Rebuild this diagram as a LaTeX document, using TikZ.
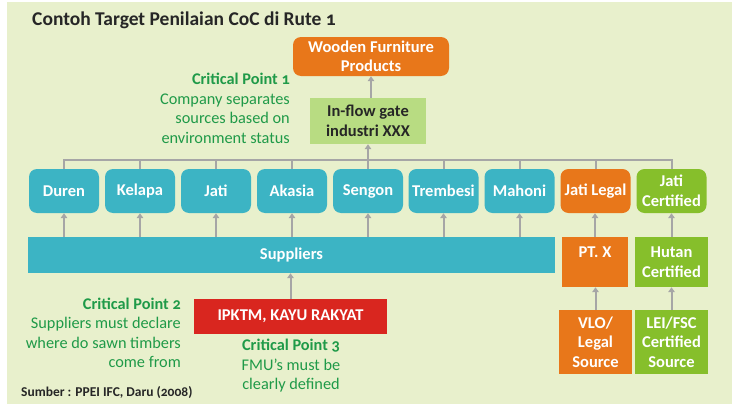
\documentclass[tikz,border=0pt]{standalone}
\usepackage{fontspec}
\setmainfont{Carlito}[Numbers=OldStyle]
\usetikzlibrary{arrows.meta}
\definecolor{bg}{HTML}{E8F0CC}
\definecolor{teal}{HTML}{3CB4C4}
\definecolor{orng}{HTML}{E8771A}
\definecolor{lgreen}{HTML}{B8DC82}
\definecolor{grn}{HTML}{86BF2B}
\definecolor{redbox}{HTML}{D9261F}
\definecolor{gtext}{HTML}{1F9A48}
\definecolor{darktext}{HTML}{262626}
\definecolor{arrgray}{HTML}{A6A6A6}
\begin{document}
\begin{tikzpicture}[x=1pt,y=-1pt,
  boxtext/.style={text=white, font=\bfseries\fontsize{16.5}{19.5}\selectfont, align=center, inner sep=0pt},
  treebox/.style={boxtext, rounded corners=8pt, fill=teal, minimum width=70pt, minimum height=44pt},
  sqbox/.style={boxtext, minimum width=73pt},
  crit/.style={text=gtext, font=\fontsize{16.3}{19.5}\selectfont, inner sep=0pt},
  arr/.style={draw=arrgray, line width=2pt, -{Triangle[width=6.5pt,length=5pt]}},
  ln/.style={draw=arrgray, line width=2pt}]
\useasboundingbox (0,0) rectangle (732,407);
\fill[white] (0,0) rectangle (732,407);
\fill[bg] (7,2) rectangle (732,404);

\node[anchor=west, text=darktext, font=\bfseries\fontsize{19.5}{23}\selectfont, inner sep=0pt] (title) at (32,20) {Contoh Target Penilaian CoC di Rute 1};

\node[boxtext, fill=orng, rounded corners=8pt, minimum width=156pt, minimum height=39pt] (wood) at (371,56.5) {Wooden Furniture\\Products};
\node[boxtext, text=darktext, fill=lgreen, minimum width=116pt, minimum height=46pt] (gate) at (368,121) {In-flow gate\\industri XXX};

\node[crit, anchor=east, align=right] (cp1) at (290,108.5) {\textbf{Critical Point 1}\\Company separates\\sources based on\\environment status};

\node[treebox] (duren) at (64,191) {Duren};
\node[treebox] (kelapa) at (140,191) {Kelapa};
\node[treebox] (jati) at (216,191) {Jati};
\node[treebox] (akasia) at (292,191) {Akasia};
\node[treebox] (sengon) at (368,191) {Sengon};
\node[treebox] (trembesi) at (443.5,191) {Trembesi};
\node[treebox] (mahoni) at (519.5,191) {Mahoni};
\node[treebox, fill=orng] (jlegal) at (595.5,191) {Jati Legal};
\node[treebox, fill=grn] (jcert) at (671.5,191) {Jati\\Certified};

\node[boxtext, fill=teal, minimum width=527pt, minimum height=36pt] (sup) at (291.5,255) {Suppliers};
\node[boxtext, fill=orng, minimum width=66pt, minimum height=50pt] (ptx) at (595,262) {PT. X\\\mbox{}};
\node[sqbox, fill=grn, minimum height=50pt] (hutan) at (671.5,262) {Hutan\\Certified};
\node[sqbox, fill=orng, minimum height=64pt] (vlo) at (595.5,342) {VLO/\\Legal\\Source};
\node[sqbox, fill=grn, minimum height=64pt] (lei) at (671.5,342) {LEI/FSC\\Certified\\Source};

\node[boxtext, fill=redbox, minimum width=193pt, minimum height=35pt] (ipk) at (290.5,316.5) {IPKTM, KAYU RAKYAT};

\node[crit, anchor=east, align=right] (cp2) at (181,333) {\textbf{Critical Point 2}\\Suppliers must declare\\where do sawn timbers\\come from};
\node[crit, align=center] (cp3) at (291,366) {\textbf{Critical Point 3}\\FMU’s must be\\clearly defined};

\node[anchor=west, text=darktext, font=\bfseries\fontsize{13.5}{16}\selectfont, inner sep=0pt] (src) at (21,393) {Sumber : PPEI IFC, Daru (2008)};

% connectors
\coordinate (bus) at (0,160);
\draw[arr] (wood.south |- gate.north) -- (wood.south);
\draw[ln] (duren.north) -- (duren.north |- bus) -- (jcert.north |- bus) -- (jcert.north);
\foreach \n in {kelapa,jati,akasia,sengon,trembesi,mahoni,jlegal}
  \draw[ln] (\n.north) -- (\n.north |- bus);
\draw[arr] (gate.south |- bus) -- (gate.south);
\foreach \n in {duren,kelapa,jati,akasia,sengon,trembesi,mahoni}
  \draw[arr] (\n.south |- sup.north) -- (\n.south);
\draw[arr] (ptx.north) -- (ptx.north |- jlegal.south);
\draw[arr] (hutan.north) -- (hutan.north |- jcert.south);
\draw[arr] (vlo.north) -- (vlo.north |- ptx.south);
\draw[arr] (lei.north) -- (lei.north |- hutan.south);
\draw[arr] (ipk.north) -- (ipk.north |- sup.south);
\end{tikzpicture}
\end{document}
